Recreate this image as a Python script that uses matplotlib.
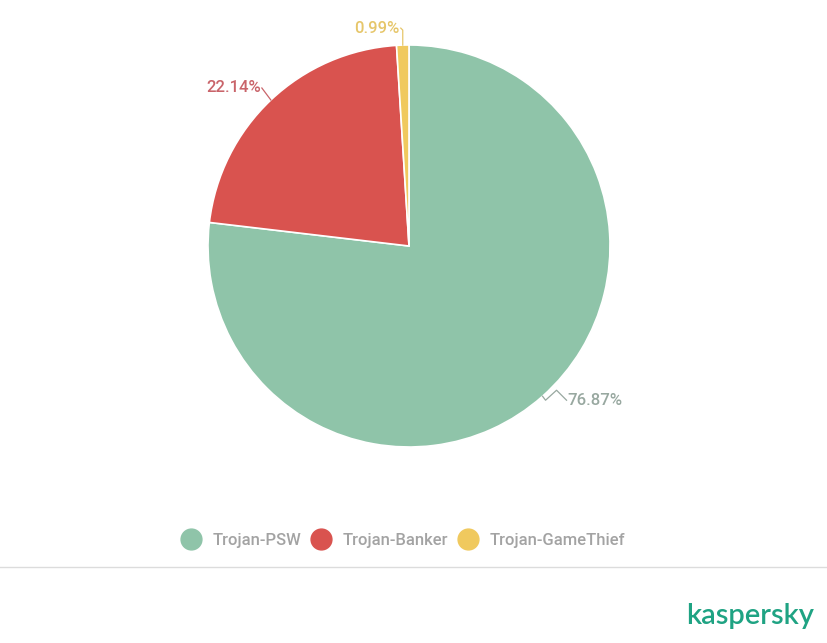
import numpy as np
import matplotlib
matplotlib.use("Agg")
import matplotlib.pyplot as plt
from matplotlib.lines import Line2D

plt.rcParams['font.family'] = ['Roboto', 'DejaVu Sans']

categories = ['Trojan-PSW', 'Trojan-Banker', 'Trojan-GameThief']
shares = [76.87, 22.14, 0.99]
colors = ['#8fc4a9', '#d9534f', '#f0c95e']
label_colors = ['#98a8a0', '#c9646a', '#e6c66a']

W, H = 828, 643
fig = plt.figure(figsize=(W / 100, H / 100), dpi=100)
fig.patch.set_facecolor('white')

# pie area: center ~ (409, 246) px, radius ~ 201 px
cx, cy, r = 409, 246, 201
ax = fig.add_axes([(cx - r) / W, (H - cy - r) / H, 2 * r / W, 2 * r / H])
wedges, _ = ax.pie(shares, colors=colors, startangle=90, counterclock=False,
                   radius=1, wedgeprops=dict(edgecolor='white', linewidth=1.2))
ax.set_xlim(-1, 1)
ax.set_ylim(-1, 1)
ax.set_aspect('equal')
ax.axis('off')

# labels with leader lines (offsets in pixels from the wedge edge)
offsets = [
    [(3, -4), (14, 6), (24, -4)],   # zigzag
    [(-9, 12)],
    [(0, 15), (-2, 17)],
]
text_align = ['left', 'right', 'right']
for w, s, off, lc, ha in zip(wedges, shares, offsets, label_colors, text_align):
    ang = np.deg2rad((w.theta1 + w.theta2) / 2)
    x, y = np.cos(ang), np.sin(ang)
    px0, py0 = ax.transData.transform((x, y))
    pts = [(px0, py0)] + [(px0 + dx, py0 + dy) for dx, dy in off]
    xs, ys = zip(*[fig.transFigure.inverted().transform(p) for p in pts])
    fig.add_artist(Line2D(xs, ys, color=lc, lw=0.9))
    tx, ty = xs[-1], ys[-1]
    fig.text(tx + (0.001 if ha == 'left' else -0.001), ty, f'{s:.2f}%',
             ha=ha, va='center', fontsize=12, color=lc, fontweight='medium')

# legend
handles = [Line2D([], [], marker='o', linestyle='', markersize=15,
                  markerfacecolor=c, markeredgecolor=c) for c in colors]
fig.legend(handles, categories, loc='center', bbox_to_anchor=(0.487, (H - 540) / H),
           ncol=3, frameon=False, labelcolor='#a3a3a3',
           handletextpad=0.7, columnspacing=0.6, handlelength=1.2,
           prop=dict(family='Roboto', size=12, weight='medium'))

# separator
fig.add_artist(Line2D([0, 1], [(H - 567) / H] * 2, color='#dcdcdc', lw=1))

# logo
fig.text(750 / W, (H - 616) / H, 'kaspersky', ha='center', va='center',
         fontsize=21, color='#1fa383', family='Lato', fontweight='semibold')

fig.savefig('out.png', dpi=100, facecolor='white')
